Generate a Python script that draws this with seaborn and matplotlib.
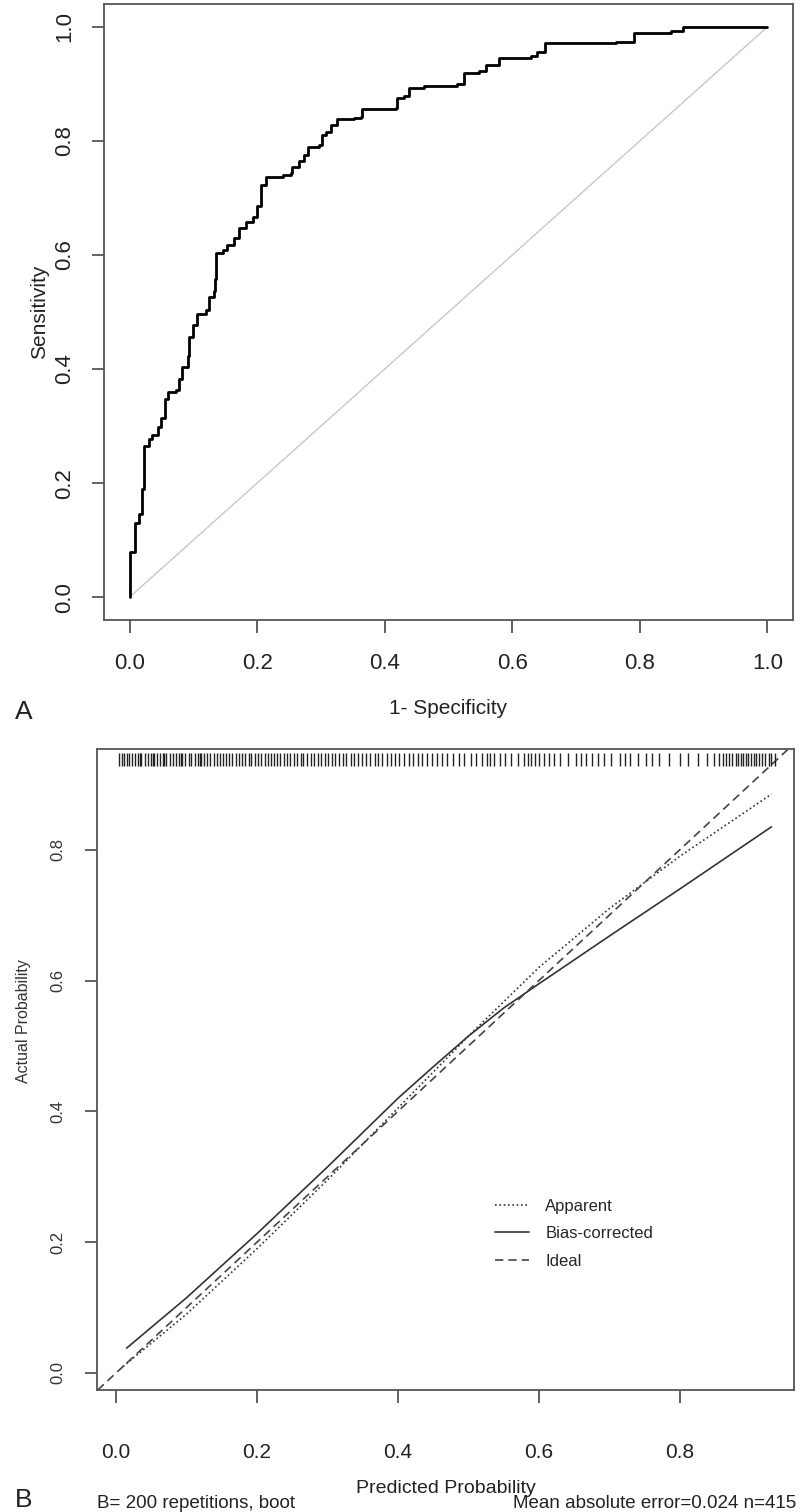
import matplotlib

matplotlib.use("Agg")

import matplotlib.pyplot as plt
import pandas as pd
import seaborn as sns

# ROC curve (panel A), corners
fpr = [0.0, 0.0, 0.009, 0.015, 0.02, 0.023, 0.03, 0.036, 0.044, 0.05, 0.055, 0.06,
       0.073, 0.078, 0.083, 0.091, 0.094, 0.099, 0.106, 0.12, 0.125, 0.133, 0.134,
       0.136, 0.146, 0.153, 0.164, 0.172, 0.183, 0.193, 0.2, 0.206, 0.214, 0.24,
       0.253, 0.255, 0.266, 0.274, 0.279, 0.297, 0.302, 0.308, 0.316, 0.326, 0.352,
       0.363, 0.365, 0.418, 0.42, 0.43, 0.438, 0.462, 0.513, 0.524, 0.548, 0.558,
       0.579, 0.629, 0.638, 0.652, 0.762, 0.79, 0.848, 0.868, 1.0]
tpr = [0.0, 0.08, 0.13, 0.145, 0.19, 0.265, 0.277, 0.285, 0.298, 0.315, 0.347, 0.36,
       0.364, 0.382, 0.403, 0.422, 0.457, 0.478, 0.496, 0.504, 0.527, 0.536, 0.557,
       0.604, 0.609, 0.618, 0.63, 0.648, 0.657, 0.667, 0.685, 0.723, 0.737, 0.74,
       0.744, 0.755, 0.764, 0.776, 0.79, 0.793, 0.811, 0.816, 0.828, 0.839, 0.84,
       0.842, 0.856, 0.858, 0.876, 0.879, 0.893, 0.897, 0.9, 0.919, 0.922, 0.933,
       0.946, 0.948, 0.956, 0.972, 0.974, 0.99, 0.992, 1.0, 1.0]

# calibration curves (panel B)
pred_apparent = [0.01, 0.1, 0.2, 0.3, 0.4, 0.5, 0.6, 0.7, 0.8, 0.93]
actual_apparent = [0.01, 0.09, 0.19, 0.295, 0.405, 0.515, 0.62, 0.71, 0.79, 0.885]
pred_bias = [0.015, 0.1, 0.2, 0.3, 0.4, 0.45, 0.5, 0.55, 0.6, 0.7, 0.8, 0.93]
actual_bias = [0.038, 0.115, 0.213, 0.315, 0.42, 0.468, 0.515, 0.558, 0.595, 0.668,
               0.74, 0.835]

# distribution of predicted probabilities (rug at top of panel B)
rug_x = [0.004, 0.008, 0.012, 0.016, 0.019, 0.022, 0.027, 0.031, 0.034, 0.036, 0.041,
         0.045, 0.049, 0.052, 0.054, 0.058, 0.063, 0.066, 0.068, 0.071, 0.076, 0.081,
         0.085, 0.089, 0.092, 0.094, 0.098, 0.103, 0.107, 0.112, 0.116, 0.119, 0.121,
         0.125, 0.129, 0.134, 0.139, 0.143, 0.147, 0.152, 0.156, 0.161, 0.165, 0.17,
         0.174, 0.179, 0.183, 0.188, 0.192, 0.197, 0.201, 0.206, 0.211, 0.215, 0.22,
         0.224, 0.229, 0.233, 0.238, 0.243, 0.247, 0.252, 0.257, 0.262, 0.266, 0.271,
         0.276, 0.281, 0.286, 0.291, 0.296, 0.301, 0.306, 0.311, 0.316, 0.322, 0.327,
         0.333, 0.338, 0.344, 0.349, 0.355, 0.361, 0.367, 0.372, 0.378, 0.384, 0.39,
         0.396, 0.402, 0.409, 0.415, 0.421, 0.428, 0.434, 0.441, 0.448, 0.455, 0.462,
         0.47, 0.478, 0.486, 0.494, 0.503, 0.511, 0.52, 0.526, 0.531, 0.537, 0.545,
         0.552, 0.561, 0.57, 0.579, 0.584, 0.589, 0.594, 0.6, 0.607, 0.614, 0.622,
         0.63, 0.641, 0.652, 0.66, 0.667, 0.675, 0.684, 0.692, 0.703, 0.715, 0.722,
         0.73, 0.741, 0.752, 0.76, 0.771, 0.785, 0.8, 0.812, 0.826, 0.838, 0.848,
         0.855, 0.861, 0.866, 0.87, 0.874, 0.879, 0.883, 0.887, 0.89, 0.894, 0.897,
         0.901, 0.905, 0.908, 0.912, 0.916, 0.921, 0.926, 0.93, 0.935]

roc_ticks = [0.0, 0.2, 0.4, 0.6, 0.8, 1.0]
cal_ticks = [0.0, 0.2, 0.4, 0.6, 0.8]

sns.set_theme(style="ticks")
plt.rcParams["font.family"] = ["Liberation Sans", "DejaVu Sans"]
BOX = "#555555"
INK = "#222222"

fig = plt.figure(figsize=(8, 15.12), dpi=100)
W, H = 800, 1512


def place(left, top, right, bottom):
    return fig.add_axes([left / W, 1 - bottom / H, (right - left) / W, (bottom - top) / H])


def style_box(ax):
    for sp in ax.spines.values():
        sp.set_visible(True)
        sp.set_color(BOX)
        sp.set_linewidth(1.3)
    ax.tick_params(direction="out", length=9, width=1.3, color=BOX)


# ---------- panel A: ROC ----------
ax1 = place(104, 4, 793, 620)
roc = pd.DataFrame({"fpr": fpr, "tpr": tpr})
ax1.plot([0, 1], [0, 1], color="#c8c8c8", lw=1.0)
sns.lineplot(data=roc, x="fpr", y="tpr", ax=ax1, color="black", lw=2.0,
             estimator=None, sort=False, drawstyle="steps-post")
ax1.set_xlim(-0.04, 1.04)
ax1.set_ylim(-0.04, 1.04)
ax1.set_xticks(roc_ticks)
ax1.set_yticks(roc_ticks)
ax1.set_xticklabels([f"{t:.1f}" for t in roc_ticks], fontsize=16, color=INK)
ax1.set_yticklabels([f"{t:.1f}" for t in roc_ticks], fontsize=16, color=INK,
                    rotation=90, va="center")
style_box(ax1)
ax1.tick_params(axis="x", pad=15)
ax1.tick_params(axis="y", pad=12)
ax1.set_xlabel("1- Specificity", fontsize=15, color=INK)
ax1.set_ylabel("Sensitivity", fontsize=15, color=INK)
ax1.xaxis.set_label_coords(0.5, -0.128)
ax1.yaxis.set_label_coords(-0.08, 0.5)
fig.text(15 / W, 1 - 712 / H, "A", fontsize=19, ha="left", va="center", color=INK)

# ---------- panel B: calibration ----------
ax2 = place(97, 749, 794, 1390)
app = pd.DataFrame({"x": pred_apparent, "y": actual_apparent})
bc = pd.DataFrame({"x": pred_bias, "y": actual_bias})
sns.lineplot(data=app, x="x", y="y", ax=ax2, color="#333333", lw=1.2,
             linestyle=(0, (1, 1.6)), estimator=None, label="Apparent")
sns.lineplot(data=bc, x="x", y="y", ax=ax2, color="#333333", lw=1.2,
             estimator=None, label="Bias-corrected")
ax2.axline((0, 0), slope=1, color="#444444", lw=1.2, linestyle=(0, (5, 3)),
           label="Ideal")
ax2.vlines(rug_x, 0.928, 0.948, color=INK, lw=1.0)
ax2.set_xlim(-0.027, 0.962)
ax2.set_ylim(-0.026, 0.954)
ax2.set_xticks(cal_ticks)
ax2.set_yticks(cal_ticks)
ax2.set_xticklabels([f"{t:.1f}" for t in cal_ticks], fontsize=15, color=INK)
ax2.set_yticklabels([f"{t:.1f}" for t in cal_ticks], fontsize=12, rotation=90,
                    va="center", color="#333333")
style_box(ax2)
ax2.tick_params(axis="x", pad=29)
ax2.tick_params(axis="y", pad=14)
ax2.set_xlabel("Predicted Probability", fontsize=14, color=INK)
ax2.set_ylabel("Actual Probability", fontsize=11.5, color="#333333")
ax2.xaxis.set_label_coords(0.5, -0.14)
ax2.yaxis.set_label_coords(-0.095, 0.575)
ax2.legend(loc="upper left", bbox_to_anchor=(0.55, 0.322), frameon=False,
           fontsize=12, handlelength=2.0, handletextpad=1.0, labelspacing=0.75)

fig.text(15 / W, 1 - 1500 / H, "B", fontsize=19, ha="left", va="center", color=INK)
fig.text(97 / W, 1 - 1503 / H, "B= 200 repetitions, boot",
         fontsize=13.5, ha="left", va="center", color=INK)
fig.text(796 / W, 1 - 1503 / H, "Mean absolute error=0.024 n=415",
         fontsize=13.5, ha="right", va="center", color=INK)

fig.savefig("out.png", dpi=100, facecolor="white")
